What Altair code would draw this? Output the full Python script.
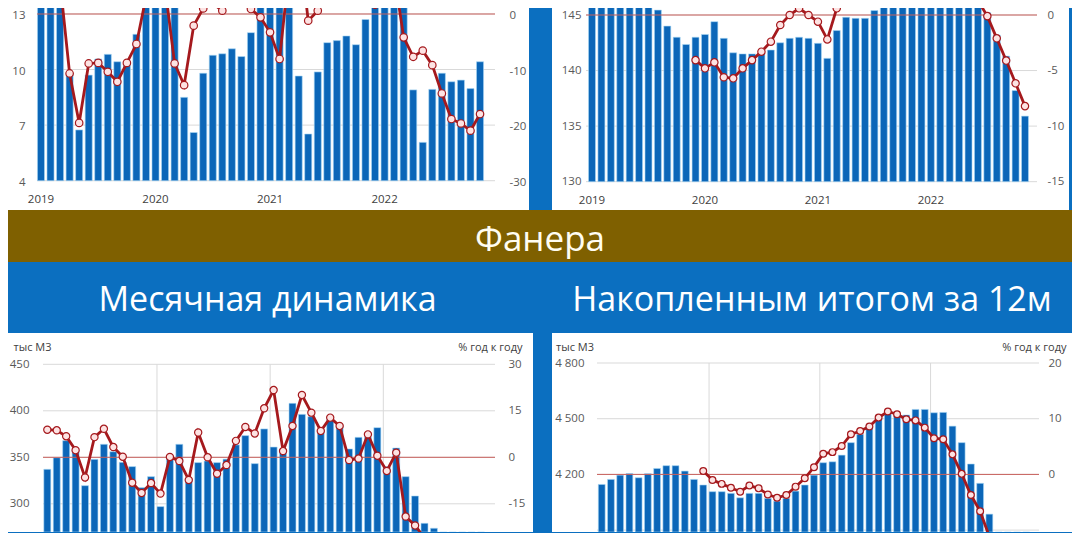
import pandas as pd
import altair as alt

FONT = "Open Sans"
BG_BLUE = "#0b6fc0"
BAND_BROWN = "#7f6000"
BAR_BLUE = "#0b66b8"
BAR_EDGE = "#a9d8f5"
LINE_RED = "#a5191d"
DOT_FILL = "#fde3e3"
ZERO_RED = "#c9605c"
GRID = "#d9d9d9"
LABEL = "#595959"

SECTION = "Фанера"
SUB_LEFT = "Месячная динамика"
SUB_RIGHT = "Накопленным итогом за 12м"
UNIT_LEFT = "тыс М3"
UNIT_RIGHT = "% год к году"

MONTHS = [f"{y}-{m:02d}" for y in range(2019, 2023) for m in range(1, 13)][:47]
YEAR_STARTS = ["2019-01", "2020-01", "2021-01", "2022-01"]
GRID_YEARS = ["2020-01", "2021-01", "2022-01"]

# upper block (its scale is cut off at the top of the picture)
TL_VOL = [13.85, 14.5, 15.3, 9.75, 6.74, 9.7, 10.57, 10.82, 10.42, 10.3, 11.9, 14.6,
          14.13, 15.2, 13.94, 8.5, 6.6, 9.8, 10.77, 10.85, 11.12, 10.7, 11.99, 14.5,
          13.66, 13.97, 15.05, 9.65, 6.52, 9.87, 11.45, 11.56, 11.81, 11.34, 12.7, 14.75,
          14.48, 14.98, 14.42, 8.9, 6.07, 8.93, 9.8, 9.34, 9.43, 8.97, 10.42]
TL_YOY = [4.0, 1.9, 5.7, -10.7, -19.6, -8.9, -8.8, -10.4, -12.2, -8.8, -5.4, 3.0,
          2.0, 4.8, -8.9, -12.8, -2.1, 1.0, 1.9, 0.6, 6.7, 3.9, 0.9, -0.6,
          -3.3, -8.1, 8.0, 13.5, -1.2, 0.6, 6.3, 6.5, 6.2, 6.0, 5.9, 1.7,
          6.0, 7.2, -4.2, -7.7, -6.6, -9.2, -14.3, -18.9, -19.7, -21.0, -18.0]

TR_VOL = [150.5, 150.8, 151.4, 150.2, 148.6, 147.5, 146.4, 145.44, 144.0, 143.0, 142.35, 143.0,
          143.25, 144.4, 142.9, 141.6, 141.5, 141.5, 141.55, 141.85, 142.5, 142.9, 143.0, 142.9,
          142.45, 141.1, 143.6, 144.8, 144.7, 144.7, 145.4, 146.1, 147.3, 147.3, 148.0, 148.3,
          148.5, 148.6, 148.4, 148.0, 147.4, 146.6, 145.2, 143.2, 141.3, 138.2, 135.9]
TR_YOY = [None] * 11 + [-4.06,
          -4.8, -4.26, -5.6, -5.7, -4.8, -4.06, -3.3, -2.4, -0.9, 0.0, 0.6, 0.0,
          -0.6, -2.2, 0.6, 1.3, 2.2, 2.3, 2.8, 3.2, 3.8, 3.3, 3.6, 3.8,
          4.2, 5.3, 3.3, 2.2, 1.9, 1.3, -0.1, -2.1, -4.1, -6.15, -8.2]

# plywood: monthly and 12-month rolling, тыс м3 and % год к году
BL_VOL = [337.1, 349.6, 367.9, 358, 319.5, 347.8, 364, 356, 344.6, 340, 317.4, 329.2,
          297, 350, 364, 326.7, 344.3, 346, 344.3, 348, 363.3, 373.3, 343.2, 380.5,
          361, 357.9, 408, 396.2, 393.7, 379.4, 391.9, 384, 359, 371.5, 372.2, 381.9,
          340, 360, 329.2, 308.4, 279, 273.7, 228, 248, 249, 261, 262]
BL_YOY = [8.9, 8.7, 6.8, 2.3, -6.5, 6.5, 9.2, 3.3, 0.2, -8.2, -11.5, -8.3,
          -11.7, 0.1, -1.2, -7.3, 8.0, 0.0, -5.3, -2.5, 5.3, 9.8, 7.7, 15.8,
          21.7, 2.0, 10.1, 20.1, 14.4, 8.5, 12.8, 10.1, -0.9, -0.4, 7.4, 0.5,
          -4.4, 1.5, -19.1, -22.0, -26.0, -27.5, -41.8, -35.4, -30.6, -29.7, -29.6]

BR_VOL = [4146, 4173, 4196, 4205, 4182, 4204, 4232, 4247, 4247, 4218, 4173, 4143,
          4107, 4107, 4098, 4074, 4098, 4098, 4071, 4056, 4071, 4110, 4143, 4196,
          4263, 4268, 4304, 4371, 4416, 4466, 4502, 4525, 4515, 4520, 4550, 4550,
          4532, 4534, 4460, 4371, 4256, 4152, 3986, 3850, 3740, 3630, 3520]
BR_YOY = [None] * 11 + [0.6,
          -1.0, -1.7, -2.4, -3.1, -2.0, -2.5, -3.6, -4.2, -3.7, -2.2, -0.7, 1.3,
          3.7, 4.0, 5.1, 7.2, 7.8, 8.6, 10.2, 11.3, 10.8, 9.9, 9.7, 8.4,
          6.5, 6.3, 3.6, 0.1, -3.7, -6.6, -11.2, -14.9, -17.2, -19.7, -22.6]


def axis_kw(ticks, pad, fmt, orient, offset, shift=0):
    kw = dict(values=ticks, labelExpr=fmt, ticks=False, tickSize=0, domain=False, grid=False,
              labelPadding=pad, labelFlush=False, labelOverlap=False, labelFontSize=11.5,
              labelColor=LABEL, title=None, orient=orient, offset=offset, zindex=1)
    if shift:
        kw["labelOffset"] = shift
    return kw


def panel(vol, yoy, size, plot, x_range, left, right, pads, years=True, titles=None,
          spaced=False, dot=52, grid_ticks=None, shift=0):
    # size: the white panel; plot: (x0, x1, y0, y1) of the plotting area inside it
    w, h = size
    px0, px1, py0, py1 = plot
    df = pd.DataFrame({"m": MONTHS, "vol": vol, "yoy": yoy})
    xs = alt.Scale(domain=MONTHS, range=list(x_range), paddingInner=0.26, paddingOuter=0.13)

    # every layer gets its own y scale; the two sides are given fixed domains
    def ls():
        return alt.Scale(domain=[left[0], left[1]], nice=False, zero=False)

    def rs():
        return alt.Scale(domain=[right[0], right[1]], nice=False, zero=False)

    if years:
        xa = alt.Axis(values=YEAR_STARTS, labelExpr="slice(datum.label, 0, 4)", ticks=False,
                      tickSize=0, domain=False, grid=False, labelAngle=0, labelPadding=13,
                      labelFontSize=11.5, labelColor="#404040", title=None, zindex=1,
                      offset=-(h - py1))
    else:
        xa = None

    lfmt = "replace(format(datum.value, ','), ',', ' ')" if spaced else "'' + datum.value"
    lkw = axis_kw(left[3], pads[0], lfmt, "left", -px0, shift)
    rkw = axis_kw(right[3], pads[1], "'' + datum.value", "right", -(w - px1), shift)
    if titles:
        for kw, (txt, tx, al) in ((lkw, titles[0]), (rkw, titles[1])):
            kw.update(title=txt, titleAngle=0, titleAlign=al, titleBaseline="middle",
                      titleX=tx, titleY=titles[2], titleFontWeight="normal", titleFontSize=11,
                      titleColor="#404040", titlePadding=0)

    layers = [
        alt.Chart(pd.DataFrame({"v": grid_ticks or left[3]})).mark_rule(
            color=GRID, strokeWidth=1
        ).encode(y=alt.Y("v:Q", scale=ls(), axis=None), x=alt.value(px0), x2=alt.value(px1))
    ]
    if not years:
        layers.append(
            alt.Chart(pd.DataFrame({"m": GRID_YEARS})).mark_rule(color=GRID, strokeWidth=1).encode(
                x=alt.X("m:O", bandPosition=0, scale=xs, axis=None),
                y=alt.value(py0), y2=alt.value(py1),
            )
        )
    layers.append(
        alt.Chart(df).mark_bar(color=BAR_BLUE, stroke=BAR_EDGE, strokeWidth=0.6, clip=True).encode(
            x=alt.X("m:O", scale=xs, axis=xa),
            y=alt.Y("vol:Q", scale=ls(), axis=alt.Axis(**lkw)),
            y2=alt.datum(left[2]),
        )
    )
    layers.append(
        alt.Chart(pd.DataFrame({"z": [0]})).mark_rule(color=ZERO_RED, strokeWidth=1).encode(
            y=alt.Y("z:Q", scale=rs(), axis=None), x=alt.value(px0), x2=alt.value(px1)
        )
    )
    layers.append(
        alt.Chart(df).mark_line(color=LINE_RED, strokeWidth=2.8, clip=True).encode(
            x=alt.X("m:O", scale=xs, axis=None),
            y=alt.Y("yoy:Q", scale=rs(), axis=alt.Axis(**rkw)),
        )
    )
    layers.append(
        alt.Chart(df).mark_circle(size=dot, color=DOT_FILL, opacity=1, stroke=LINE_RED,
                                  strokeWidth=1.2, clip=True).encode(
            x=alt.X("m:O", scale=xs, axis=None),
            y=alt.Y("yoy:Q", scale=rs(), axis=None),
        )
    )
    return alt.layer(*layers).resolve_scale(y="independent").resolve_axis(
        x="independent"
    ).properties(width=w, height=h, view=alt.ViewBackground(fill="white", strokeWidth=0))


tl = panel(TL_VOL, TL_YOY, (521, 202), (29, 487, 0, 172.7), (28.2, 476.8),
           (2.419, 13.32, 4, [4, 7, 10, 13]), (-35.27, 1.08, 0, [-30, -20, -10, 0]), (12, 14),
           dot=56, shift=1.5)
tr = panel(TR_VOL, TR_YOY, (517, 202), (34, 485, 0, 173.7), (35.3, 477.7),
           (127.45, 145.63, 130, [130, 135, 140, 145]), (-17.55, 0.63, 0, [-15, -10, -5, 0]), (5, 10),
           dot=54)
bl = panel(BL_VOL, BL_YOY, (525, 199), (35, 487, 31.3, 199), (34.6, 477.8),
           (269.68, 483.66, 269.68, [300, 350, 400, 450]), (-24.1, 40.1, 0, [-15, 0, 15, 30]),
           (14, 13), years=False,
           titles=((UNIT_LEFT, -30, "left"), (UNIT_RIGHT, 27, "right"), 14))
br = panel(BR_VOL, BR_YOY, (520, 199), (45, 487, 30, 199), (45.1, 478.9),
           (3889.8, 4961.6, 3889.8, [4200, 4500, 4800]), (-10.34, 25.39, 0, [0, 10, 20]),
           (13, 9), years=False,
           titles=((UNIT_LEFT, -41.5, "left"), (UNIT_RIGHT, 27, "right"), 14),
           spaced=True, dot=46, grid_ticks=[3900, 4200, 4500, 4800])

band = alt.Chart(pd.DataFrame({"t": [SECTION]})).mark_text(
    font=FONT, fontSize=35, color="#fffdf2", align="center", baseline="alphabetic"
).encode(text="t:N", x=alt.value(532), y=alt.value(41)).properties(
    width=1064, height=52, view=alt.ViewBackground(fill=BAND_BROWN, strokeWidth=0)
)

subs = alt.layer(
    alt.Chart(pd.DataFrame({"t": [SUB_LEFT]})).mark_text(
        font=FONT, fontSize=34, color="white", align="center", baseline="alphabetic"
    ).encode(text="t:N", x=alt.value(259.5), y=alt.value(49)),
    alt.Chart(pd.DataFrame({"t": [SUB_RIGHT]})).mark_text(
        font=FONT, fontSize=34, color="white", align="center", baseline="alphabetic"
    ).encode(text="t:N", x=alt.value(804), y=alt.value(49)),
).properties(width=1064, height=71)

chart = alt.vconcat(
    alt.hconcat(tl, tr, spacing=23),
    band,
    subs,
    alt.hconcat(bl, br, spacing=19),
    spacing=0,
).properties(padding=0, background=BG_BLUE).configure(font=FONT).configure_view(strokeWidth=0)

chart.save("out.html", embed_options={"renderer": "svg", "actions": False})
